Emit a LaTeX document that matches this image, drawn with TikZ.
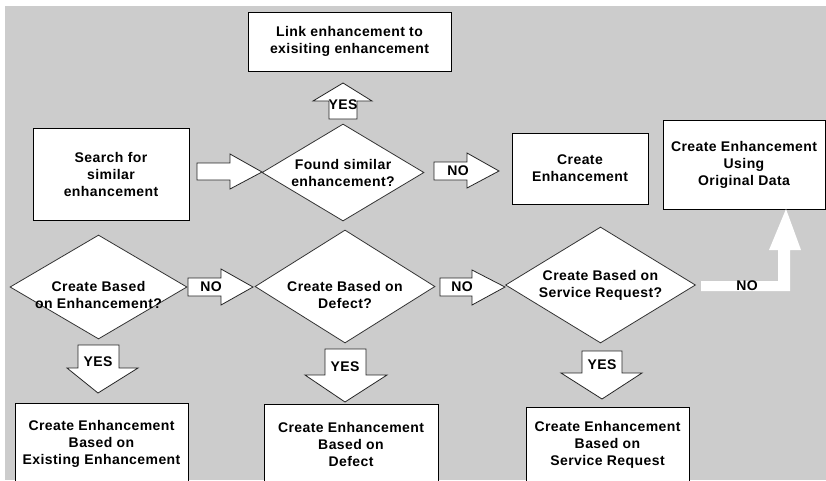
\documentclass[tikz,border=0pt]{standalone}
\usepackage{fontspec}
\setmainfont{Liberation Sans}[LetterSpace=3]
\usetikzlibrary{shapes.geometric}

\begin{document}
\begin{tikzpicture}[x=1pt,y=-1pt,
  every node/.style={font=\fontsize{14}{17}\selectfont\bfseries},
  procbox/.style={draw=black,line width=1pt,fill=white,align=center,inner sep=0pt},
  decision/.style={diamond,draw=black!80,line width=0.8pt,fill=white,inner sep=0pt},
  qtext/.style={align=center,inner sep=0pt},
  blockarr/.style={draw=black!85,line width=0.8pt,fill=white,line join=miter}]
  \useasboundingbox (0,0) rectangle (826,480);
  \fill[white] (0,0) rectangle (826,480);
  \fill[gray!40] (5,6) rectangle (826,480);

  % process boxes
  \node[procbox,minimum width=203pt,minimum height=59pt] (link) at (349.5,41.5) {Link enhancement to\\exisiting enhancement};
  \node[procbox,minimum width=156pt,minimum height=92pt] (search) at (111,174) {Search for\\similar\\enhancement};
  \node[procbox,minimum width=136pt,minimum height=71pt] (create) at (580,168.5) {Create\\Enhancement};
  \node[procbox,minimum width=162pt,minimum height=89pt] (orig) at (744,164.5) {Create Enhancement\\Using\\Original Data};
  \node[procbox,minimum width=173pt,minimum height=82pt] (fromEnh) at (101.5,444) {Create Enhancement\\Based on\\Existing Enhancement};
  \node[procbox,minimum width=174pt,minimum height=80pt] (fromDef) at (351,444) {Create Enhancement\\Based on\\Defect};
  \node[procbox,minimum width=163pt,minimum height=76pt] (fromSR) at (607.5,445) {Create Enhancement\\Based on\\Service Request};

  % decisions
  \node[decision,minimum width=162pt,minimum height=97pt,
    label={[qtext,name=foundT]center:Found similar\\enhancement?}] (found) at (343,172.5) {};
  \node[decision,minimum width=177pt,minimum height=104pt,
    label={[qtext,name=dEnhT,yshift=-8pt]center:Create Based\\on Enhancement?}] (dEnh) at (98.5,287) {};
  \node[decision,minimum width=180pt,minimum height=113pt,
    label={[qtext,name=dDefT,yshift=-8pt]center:Create Based on\\Defect?}] (dDef) at (345,286.5) {};
  \node[decision,minimum width=190pt,minimum height=116pt,
    label={[qtext,name=dSRT]center:Create Based on\\Service Request?}] (dSR) at (600.5,285) {};

  % block arrows
  \filldraw[blockarr] (197,163) -- (230,163) -- (230,154) -- (262,172) -- (230,189) -- (230,180) -- (197,180) -- cycle;
  \filldraw[blockarr] (434,162) -- (467,162) -- (467,153) -- (499,171) -- (467,188) -- (467,180) -- (434,180) -- cycle;
  \node (noFound) at (458,171) {NO};
  \filldraw[blockarr] (329,119) -- (329,101) -- (313,101) -- (343,83) -- (372,101) -- (357,101) -- (357,119) -- cycle;
  \node (yesFound) at (343,105) {YES};
  \filldraw[blockarr] (188,278) -- (221,278) -- (221,269) -- (253,287) -- (221,305) -- (221,296) -- (188,296) -- cycle;
  \node (noEnh) at (211,287) {NO};
  \filldraw[blockarr] (440,278) -- (472,278) -- (472,270) -- (505,287) -- (472,305) -- (472,296) -- (440,296) -- cycle;
  \node (noDef) at (462,287) {NO};
  \filldraw[blockarr] (78,345) -- (119,345) -- (119,368) -- (138,368) -- (98,393) -- (67,368) -- (78,368) -- cycle;
  \node (yesEnh) at (98,362) {YES};
  \filldraw[blockarr] (325,349) -- (366,349) -- (366,375) -- (387,375) -- (345,402) -- (305,375) -- (325,375) -- cycle;
  \node (yesDef) at (345,367) {YES};
  \filldraw[blockarr] (582,351) -- (622,351) -- (622,373) -- (642,373) -- (602,399) -- (561,373) -- (582,373) -- cycle;
  \node (yesSR) at (602,365) {YES};
  \fill[white] (701,281) -- (778,281) -- (778,250) -- (769,250) -- (786,209) -- (801,250) -- (790,250) -- (790,291) -- (701,291) -- cycle;
  \node (noSR) at (747,286) {NO};
\end{tikzpicture}
\end{document}
